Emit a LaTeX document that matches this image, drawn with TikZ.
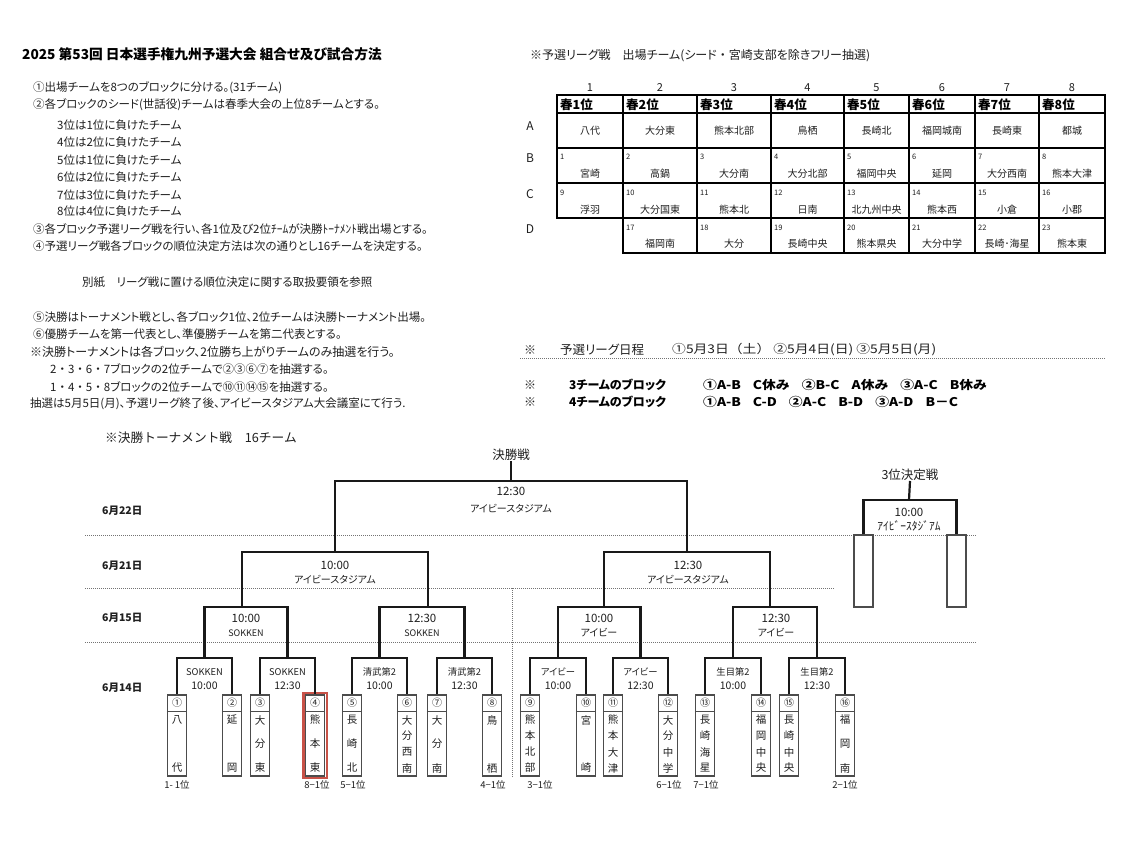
\documentclass[tikz,border=0pt]{standalone}
\usepackage{fontspec}
\setmainfont{Noto Sans CJK JP}[RawFeature=+palt]
\newfontfamily\nopalt{Noto Sans CJK JP}
\newfontfamily\schf{Noto Sans CJK JP}[FakeStretch=1.15]
\usetikzlibrary{fit}
\definecolor{hlred}{RGB}{200,82,72}
\newcommand\fs[1]{\fontsize{#1}{#1}\selectfont}
\begin{document}
\begin{tikzpicture}[x=1pt,y=-1pt,
  txt/.style={inner sep=0,anchor=west,text=black!88},
  ctr/.style={inner sep=0,text=black!88},
  body/.style={txt,font=\fs{11.5}},
  br/.style={line width=2.2pt,black!90},
  tab/.style={line width=1.8pt,black},
  dotl/.style={black!55,line width=0.9pt,dash pattern=on 1pt off 1pt},
  tbox/.style={draw=black!70,line width=1.1pt,minimum width=19pt,minimum height=81pt,inner sep=0},
  ebox/.style={draw=black!70,line width=1.1pt,minimum width=19pt,minimum height=72pt,inner sep=0},
  tsep/.style={black!70,line width=1pt},
  colnum/.style={ctr,font=\fs{11}},
  hdr/.style={txt,font=\fs{12.5}\bfseries,text=black},
  cname/.style={ctr,font=\fs{10}},
  cnum/.style={txt,font=\fs{7.5}},
  rowl/.style={ctr,font=\fs{12}},
  tchar/.style={ctr,font=\fs{10.5}},
  tnum/.style={ctr,font=\fs{10}},
  tim/.style={ctr,font=\fs{11.5}},
  ven/.style={ctr,font=\fs{10}},
  qven/.style={ctr,font=\fs{9}},
  rven/.style={ctr,font=\fs{9.3}},
  rtim/.style={ctr,font=\fs{10.5}},
  poslab/.style={ctr,font=\fs{9.5}},
  datel/.style={txt,font=\fs{10.5}\bfseries},
  sch/.style={txt,font=\fs{12}\schf},
  schb/.style={txt,font=\fs{12}\schf\bfseries,text=black},
]
\useasboundingbox (0,0) rectangle (1125,844);
\fill[white] (0,0) rectangle (1125,844);

% ---------------- left text block
\node[txt,font=\fs{13.7}\bfseries,text=black] (l0) at (22,54) {2025 第53回 日本選手権九州予選大会 組合せ及び試合方法};
\node[body] (l1) at (33,88) {①出場チームを8つのブロックに分ける。(31チーム)};
\node[body] (l2) at (33,105) {②各ブロックのシード(世話役)チームは春季大会の上位8チームとする。};
\node[body] (l3) at (57,125) {3位は1位に負けたチーム};
\node[body] (l4) at (57,142) {4位は2位に負けたチーム};
\node[body] (l5) at (57,160) {5位は1位に負けたチーム};
\node[body] (l6) at (57,177) {6位は2位に負けたチーム};
\node[body] (l7) at (57,195) {7位は3位に負けたチーム};
\node[body] (l8) at (57,211) {8位は4位に負けたチーム};
\node[body] (l9) at (33,229) {③各ブロック予選リーグ戦を行い、各1位及び2位ﾁｰﾑが決勝ﾄｰﾅﾒﾝﾄ戦出場とする。};
\node[body] (l10) at (33,246) {④予選リーグ戦各ブロックの順位決定方法は次の通りとし16チームを決定する。};
\node[body] (l11) at (82,282) {別紙　リーグ戦に置ける順位決定に関する取扱要領を参照};
\node[body] (l12) at (33,317) {⑤決勝はトーナメント戦とし、各ブロック1位、2位チームは決勝トーナメント出場。};
\node[body] (l13) at (33,334) {⑥優勝チームを第一代表とし、準優勝チームを第二代表とする。};
\node[txt,font=\fs{12}] (l14) at (30,352) {※決勝トーナメントは各ブロック、2位勝ち上がりチームのみ抽選を行う。};
\node[body] (l15) at (50,369) {{\nopalt 2・3・6・7}ブロックの2位チームで②③⑥⑦を抽選する。};
\node[body] (l16) at (50,387) {{\nopalt 1・4・5・8}ブロックの2位チームで⑩⑪⑭⑮を抽選する。};
\node[body] (l17) at (30,404) {抽選は5月5日(月)、予選リーグ終了後、アイビースタジアム大会議室にて行う.};

% ---------------- table
\node[txt,font=\fs{12}] (tt) at (530,56) {※予選リーグ戦　出場チーム(シード{\nopalt ・}宮崎支部を除きフリー抽選)};
\node[rowl] (ra) at (530,126) {A};
\node[rowl] (rb) at (530,158) {B};
\node[rowl] (rc) at (530,194) {C};
\node[rowl] (rd) at (530,229) {D};
\draw[tab] (557,95) rectangle (1105,218);
\draw[tab] (623,218) rectangle (1105,253);
\foreach \y in {113,148,183} \draw[tab] (557,\y) -- (1105,\y);
\foreach \x in {623,697,771,844,909,975,1039} \draw[tab] (\x,95) -- (\x,253);
\foreach \xl/\xc/\h/\a/\bn/\b/\cn/\c [count=\i] in {
557/590/春1位/八代/1/宮崎/9/浮羽,
623/660/春2位/大分東/2/高鍋/10/大分国東,
697/734/春3位/熊本北部/3/大分南/11/熊本北,
771/807.5/春4位/鳥栖/4/大分北部/12/日南,
844/876.5/春5位/長崎北/5/福岡中央/13/北九州中央,
909/942/春6位/福岡城南/6/延岡/14/熊本西,
975/1007/春7位/長崎東/7/大分西南/15/小倉,
1039/1072/春8位/都城/8/熊本大津/16/小郡}{
  \node[colnum] (col\i) at (\xc,88) {\i};
  \node[hdr] (h\i) at (\xl+3,104.5) {\h};
  \node[cname] (a\i) at (\xc,130.5) {\a};
  \node[cnum] (bn\i) at (\xl+3,157) {\bn};
  \node[cname] (b\i) at (\xc,174) {\b};
  \node[cnum] (cn\i) at (\xl+3,193) {\cn};
  \node[cname] (c\i) at (\xc,210) {\c};
}
\foreach \xl/\xc/\dn/\d in {
623/660/17/福岡南, 697/734/18/大分, 771/807.5/19/長崎中央, 844/876.5/20/熊本県央,
909/942/21/大分中学, 975/1007/22/長崎･海星, 1039/1072/23/熊本東}{
  \node[cnum] (dn\dn) at (\xl+3,228) {\dn};
  \node[cname] (d\dn) at (\xc,244) {\d};
}

% ---------------- schedule
\node[txt,font=\fs{12}] (s1a) at (524,350) {※};
\node[txt,font=\fs{12.5}] (s1b) at (560,350) {予選リーグ日程};
\node[sch] (s1c) at (672,350) {①5月3日（土） ②5月4日(日) ③5月5日(月)};
\draw[dotl] (520,358) -- (1105,358);
\node[txt,font=\fs{12}] (s2a) at (524,385) {※};
\node[txt,font=\fs{12}\bfseries,text=black] (s2b) at (569,385) {3チームのブロック};
\node[schb] (s2c) at (703,385) {①A-B\hspace{12pt}C休み\hspace{12pt}②B-C\hspace{12pt}A休み\hspace{12pt}③A-C\hspace{12pt}B休み};
\node[txt,font=\fs{12}] (s3a) at (524,402) {※};
\node[txt,font=\fs{12}\bfseries,text=black] (s3b) at (569,402) {4チームのブロック};
\node[schb] (s3c) at (703,402) {①A-B\hspace{12pt}C-D\hspace{12pt}②A-C\hspace{12pt}B-D\hspace{12pt}③A-D\hspace{12pt}B－C};

% ---------------- tournament
\node[txt,font=\fs{12.7}\nopalt] (ttl) at (105,438) {※決勝トーナメント戦　16チーム};
\node[datel] (d22) at (102,511) {6月22日};
\node[datel] (d21) at (102,566) {6月21日};
\node[datel] (d15) at (102,618) {6月15日};
\node[datel] (d14) at (102,688) {6月14日};

\draw[dotl] (85,535) -- (977,535);
\draw[dotl] (85,588) -- (835,588);
\draw[dotl] (85,642) -- (977,642);
\draw[dotl] (512,588) -- (512,778);

% team boxes
\foreach \n/\c/\x/\k/\cs in {
1/①/177/2/{八,代}, 2/②/232/2/{延,岡}, 3/③/260/3/{大,分,東}, 4/④/315/3/{熊,本,東},
5/⑤/352/3/{長,崎,北}, 6/⑥/407/4/{大,分,西,南}, 7/⑦/437/3/{大,分,南}, 8/⑧/492/2/{鳥,栖},
9/⑨/530/4/{熊,本,北,部}, 10/⑩/586/2/{宮,崎}, 11/⑪/613/4/{熊,本,大,津}, 12/⑫/668/4/{大,分,中,学},
13/⑬/705/4/{長,崎,海,星}, 14/⑭/761/4/{福,岡,中,央}, 15/⑮/789/4/{長,崎,中,央}, 16/⑯/845/3/{福,岡,南}}{
  \node[tbox] (t\n) at (\x,735.5) {};
  \draw[tsep] (t\n.west |- 0,711) -- (t\n.east |- 0,711);
  \node[tnum] (tn\n) at (\x,703) {\c};
  \foreach \ch [count=\j] in \cs {
    \node[tchar] (t\n c\j) at (\x,{720+(\j-1)*48/(\k-1)}) {\ch};
  }
}
\node[fit=(t4),inner sep=1.6pt,draw=hlred,line width=2.3pt] (t4hl) {};

% position labels
\node[poslab] (p1) at (177,785) {1- 1位};
\node[poslab] (p4) at (317,785) {8−1位};
\node[poslab] (p5) at (353,785) {5−1位};
\node[poslab] (p8) at (493,785) {4−1位};
\node[poslab] (p9) at (540,785) {3−1位};
\node[poslab] (p12) at (669,785) {6−1位};
\node[poslab] (p13) at (706,785) {7−1位};
\node[poslab] (p16) at (845,785) {2−1位};

% bracket junctions
\coordinate (m1) at (204.5,658); \coordinate (m2) at (287.5,658);
\coordinate (m3) at (379.5,658); \coordinate (m4) at (464.5,658);
\coordinate (m5) at (558,658);   \coordinate (m6) at (640.5,658);
\coordinate (m7) at (733,658);   \coordinate (m8) at (817,658);
\coordinate (q1) at (242,607); \coordinate (q2) at (428,607);
\coordinate (q3) at (604,607); \coordinate (q4) at (770,607);
\coordinate (s1) at (335,552); \coordinate (s2) at (687,552);
\coordinate (f) at (511,481);

\draw[br] (t1.north) |- (m1) -| (t2.north);
\draw[br] (t3.north) |- (m2) -| (t4.north);
\draw[br] (t5.north) |- (m3) -| (t6.north);
\draw[br] (t7.north) |- (m4) -| (t8.north);
\draw[br] (t9.north) |- (m5) -| (t10.north);
\draw[br] (t11.north) |- (m6) -| (t12.north);
\draw[br] (t13.north) |- (m7) -| (t14.north);
\draw[br] (t15.north) |- (m8) -| (t16.north);
\draw[br] (m1) |- (q1) -| (m2);
\draw[br] (m3) |- (q2) -| (m4);
\draw[br] (m5) |- (q3) -| (m6);
\draw[br] (m7) |- (q4) -| (m8);
\draw[br] (q1) |- (s1) -| (q2);
\draw[br] (q3) |- (s2) -| (q4);
\draw[br] (s1) |- (f) -| (s2);
\node[ctr,font=\fs{12.5}] (fl) at (511,455) {決勝戦};
\draw[br] (f) -- (fl.south);

% match labels
\node[tim] (ft) at (511,491) {12:30};
\node[ven] (fv) at (511,509) {アイビースタジアム};
\node[tim] (s1t) at (335,565) {10:00};
\node[ven] (s1v) at (335,580) {アイビースタジアム};
\node[tim] (s2t) at (688,565) {12:30};
\node[ven] (s2v) at (688,580) {アイビースタジアム};
\node[tim] (q1t) at (246,618) {10:00};
\node[qven] (q1v) at (246,633) {SOKKEN};
\node[tim] (q2t) at (422,618) {12:30};
\node[qven] (q2v) at (422,633) {SOKKEN};
\node[tim] (q3t) at (599,618) {10:00};
\node[ven] (q3v) at (599,633) {アイビー};
\node[tim] (q4t) at (776,618) {12:30};
\node[ven] (q4v) at (776,633) {アイビー};
\foreach \i/\v/\t in {1/SOKKEN/10:00, 2/SOKKEN/12:30, 3/清武第2/10:00, 4/清武第2/12:30,
  5/アイビー/10:00, 6/アイビー/12:30, 7/生目第2/10:00, 8/生目第2/12:30}{
  \node[rven] (r\i v) at ([yshift=-14pt]m\i) {\v};
  \node[rtim] (r\i t) at ([yshift=-28pt]m\i) {\t};
}

% third place
\node[ebox] (b3l) at (863.5,571) {};
\node[ebox] (b3r) at (956.5,571) {};
\coordinate (tp) at (909,500);
\draw[br] (b3l.north) |- (tp) -| (b3r.north);
\node[ctr,font=\fs{12.5}] (tpl) at (910,475) {3位決定戦};
\draw[br] (tp) -- (tpl.south);
\node[tim] (tpt) at (909,512) {10:00};
\node[ctr,font=\fs{11.5}] (tpv) at (909,526) {ｱｲﾋﾞｰｽﾀｼﾞｱﾑ};
\end{tikzpicture}
\end{document}
